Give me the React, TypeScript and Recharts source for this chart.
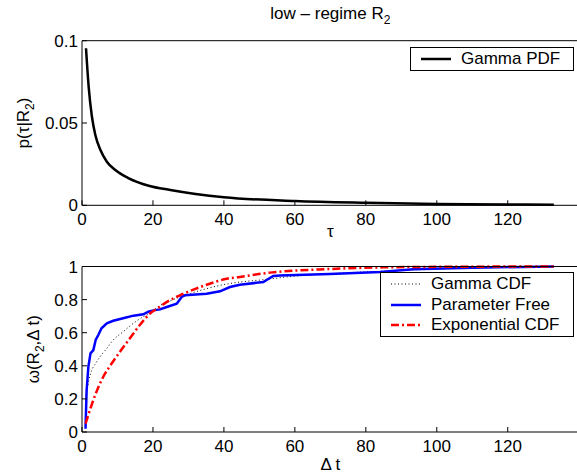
import React from 'react';
import { LineChart, Line, XAxis, YAxis, Legend } from 'recharts';

// Gamma PDF, low regime R2
const pdfTau = [1.13, 1.88, 2.8, 3.76, 5.2, 7.0, 9.4, 13.2, 18.8, 24.9, 40, 60, 80, 100, 120, 133];
const pdfValue = [0.0954, 0.072, 0.0538, 0.0427, 0.0336, 0.0265, 0.0214, 0.0164, 0.0119, 0.0093, 0.0049, 0.0026, 0.0015, 0.0008, 0.0005, 0.0003];

// Parameter-free (empirical) distribution
const freeDt = [1.0, 1.03, 1.3, 1.8, 2.4, 3.2, 3.85, 4.6, 5.5, 7.0, 8.8, 11.6, 14.5, 17.3, 18.7, 20.1, 22, 23.9, 26.7, 28.1, 29, 35.1, 38.9, 41.7, 44.5, 51.1, 53.9, 55.8, 69.9, 84, 93.4, 110, 133];
const freeValue = [0.02, 0.05, 0.25, 0.395, 0.475, 0.495, 0.556, 0.586, 0.627, 0.657, 0.672, 0.687, 0.703, 0.711, 0.727, 0.735, 0.741, 0.755, 0.775, 0.816, 0.826, 0.836, 0.85, 0.876, 0.89, 0.906, 0.943, 0.946, 0.955, 0.967, 0.983, 0.993, 1.0];

// Gamma CDF
const gammaDt = [1.0, 1.8, 2.7, 4, 5.1, 7, 8.8, 11.6, 14.5, 17.3, 19.2, 21, 25.7, 30.4, 35.1, 39.8, 44.5, 51, 60.5, 69.9, 85, 100, 115, 133];
const gammaValue = [0.2, 0.3, 0.37, 0.42, 0.455, 0.506, 0.556, 0.606, 0.657, 0.697, 0.717, 0.75, 0.8, 0.836, 0.866, 0.89, 0.906, 0.92, 0.943, 0.957, 0.972, 0.985, 0.993, 0.997];

// Exponential CDF
const expDt = [1.0, 1.3, 2.7, 4.1, 6.0, 8.4, 10.7, 13.5, 16.3, 19.2, 22, 23.9, 27.6, 31.4, 36, 40.8, 44.5, 53, 69.9, 85, 100, 133];
const expValue = [0.05, 0.07, 0.163, 0.244, 0.334, 0.415, 0.485, 0.566, 0.647, 0.716, 0.757, 0.786, 0.826, 0.86, 0.896, 0.926, 0.937, 0.963, 0.985, 0.995, 0.998, 1.0];

const xTicks = [0, 20, 40, 60, 80, 100, 120];
const pdfTicks = [0, 0.05, 0.1];
const cdfTicks = [0, 0.2, 0.4, 0.6, 0.8, 1];

const zip = (xs: number[], ys: number[]) => xs.map((x, i) => ({ x, y: ys[i] }));

const pdfData = zip(pdfTau, pdfValue);
const freeData = zip(freeDt, freeValue);
const gammaData = zip(gammaDt, gammaValue);
const expData = zip(expDt, expValue);

const FONT = '"Liberation Sans", Arial, Helvetica, sans-serif';

const SERIES_STYLE: Record<string, { color: string; width: number; dash?: string }> = {
  'Gamma PDF': { color: '#000', width: 2.5 },
  'Gamma CDF': { color: '#000', width: 1, dash: '1 2.5' },
  'Parameter Free': { color: '#0000ff', width: 2.5 },
  'Exponential CDF': { color: '#ff0000', width: 2.5, dash: '8 3 2 3' },
};
const SERIES_ORDER = Object.keys(SERIES_STYLE);

// tick label drawn at the position recharts computes
const AxisTick = (props: any) => {
  const { x, y, textAnchor, verticalAnchor, payload } = props;
  return (
    <text
      x={x}
      y={y}
      dy={verticalAnchor === 'start' ? '0.71em' : '0.355em'}
      textAnchor={textAnchor}
      fontFamily={FONT}
      fontSize={17}
      fill="#000"
    >
      {payload.value}
    </text>
  );
};

// matlab-style boxed legend, entries kept in plotting order
const BoxLegend = ({ payload }: any) => {
  const items = [...(payload || [])].sort(
    (a: any, b: any) => SERIES_ORDER.indexOf(a.value) - SERIES_ORDER.indexOf(b.value),
  );
  return (
    <div
      style={{
        background: '#fff',
        border: '1px solid #000',
        padding: '1px 13px 0 10px',
        fontFamily: FONT,
        fontSize: 17,
        lineHeight: '20.5px',
      }}
    >
      {items.map((entry: any) => {
        const s = SERIES_STYLE[entry.value];
        return (
          <div key={entry.value} style={{ display: 'flex', alignItems: 'center', whiteSpace: 'nowrap' }}>
            <svg width={30} height={10} style={{ marginRight: 10 }}>
              <line x1={0} y1={5} x2={30} y2={5} stroke={s.color} strokeWidth={s.width} strokeDasharray={s.dash} />
            </svg>
            <span>{entry.value}</span>
          </div>
        );
      })}
    </div>
  );
};

const XTitle = (text: React.ReactNode, dy: number) => (props: any) => {
  const vb = props.viewBox;
  return (
    <text x={vb.x + vb.width / 2} y={vb.y + dy} textAnchor="middle" fontFamily={FONT} fontSize={17} fill="#000">
      {text}
    </text>
  );
};

const YTitle = (text: React.ReactNode, baselineX: number) => (props: any) => {
  const vb = props.viewBox;
  const cy = vb.y + vb.height / 2;
  return (
    <text
      transform={`translate(${baselineX},${cy}) rotate(-90)`}
      textAnchor="middle"
      fontFamily={FONT}
      fontSize={17}
      fill="#000"
    >
      {text}
    </text>
  );
};

const PlotTitle = (props: any) => {
  const vb = props.viewBox;
  return (
    <text x={vb.x + vb.width / 2} y={vb.y - 21} textAnchor="middle" fontFamily={FONT} fontSize={17} fill="#000">
      low – regime R<tspan dy={5} fontSize={12}>2</tspan>
    </text>
  );
};

const axisLine = { stroke: '#000', strokeWidth: 1 };
const tickLine = { stroke: '#000', strokeWidth: 1 };

const App = () => (
  <div style={{ position: 'absolute', left: 0, top: 0, width: 577, height: 475, overflow: 'hidden', background: '#fff' }}>
    <div style={{ position: 'absolute', left: 0, top: 240 }}>
      <LineChart width={600} height={235} margin={{ top: 25.5, right: 20.3, bottom: 13, left: 22 }}>
        <XAxis
          dataKey="x"
          type="number"
          domain={[0, 140]}
          ticks={xTicks}
          allowDataOverflow
          height={30}
          axisLine={axisLine}
          tickLine={tickLine}
          tickSize={-5}
          tickMargin={13}
          tick={AxisTick}
          label={XTitle('Δ t', 38)}
        />
        <XAxis
          xAxisId="top"
          orientation="top"
          dataKey="x"
          type="number"
          domain={[0, 140]}
          ticks={xTicks}
          height={1}
          axisLine={axisLine}
          tickLine={tickLine}
          tickSize={-5}
          tick={false}
        />
        <YAxis
          type="number"
          domain={[0, 1]}
          ticks={cdfTicks}
          width={60}
          axisLine={axisLine}
          tickLine={tickLine}
          tickSize={-5}
          tickMargin={9}
          tick={AxisTick}
          label={YTitle(
            <>
              ω(R<tspan dy={5} fontSize={12}>2</tspan>
              <tspan dy={-5}>,Δ t)</tspan>
            </>,
            39,
          )}
        />
        <YAxis
          yAxisId="right"
          orientation="right"
          type="number"
          domain={[0, 1]}
          ticks={cdfTicks}
          width={1}
          axisLine={axisLine}
          tickLine={tickLine}
          tickSize={-5}
          tick={false}
        />
        <Legend
          layout="vertical"
          align="center"
          verticalAlign="middle"
          content={BoxLegend}
          wrapperStyle={{ position: 'absolute', left: 380, top: 32, width: 'auto' }}
        />
        <Line
          data={gammaData}
          dataKey="y"
          name="Gamma CDF"
          type="monotone"
          stroke="#000"
          strokeWidth={1}
          strokeDasharray="1 2.5"
          dot={false}
          isAnimationActive={false}
        />
        <Line
          data={freeData}
          dataKey="y"
          name="Parameter Free"
          type="linear"
          stroke="#0000ff"
          strokeWidth={2.5}
          dot={false}
          isAnimationActive={false}
        />
        <Line
          data={expData}
          dataKey="y"
          name="Exponential CDF"
          type="monotone"
          stroke="#ff0000"
          strokeWidth={2.5}
          strokeDasharray="8 3 2 3"
          dot={false}
          isAnimationActive={false}
        />
      </LineChart>
    </div>

    <div style={{ position: 'absolute', left: 0, top: 0 }}>
      <LineChart width={600} height={250} margin={{ top: 39.7, right: 20.3, bottom: 14.7, left: 22 }}>
        <XAxis
          dataKey="x"
          type="number"
          domain={[0, 140]}
          ticks={xTicks}
          allowDataOverflow
          height={30}
          axisLine={axisLine}
          tickLine={tickLine}
          tickSize={-5}
          tickMargin={13}
          tick={AxisTick}
          label={XTitle('τ', 32)}
        />
        <XAxis
          xAxisId="top"
          orientation="top"
          dataKey="x"
          type="number"
          domain={[0, 140]}
          ticks={xTicks}
          height={1}
          axisLine={axisLine}
          tickLine={tickLine}
          tickSize={-5}
          tick={false}
          label={PlotTitle}
        />
        <YAxis
          type="number"
          domain={[0, 0.1]}
          ticks={pdfTicks}
          width={60}
          axisLine={axisLine}
          tickLine={tickLine}
          tickSize={-5}
          tickMargin={9}
          tick={AxisTick}
          label={YTitle(
            <>
              p(τ|R<tspan dy={5} fontSize={12}>2</tspan>
              <tspan dy={-5}>)</tspan>
            </>,
            29,
          )}
        />
        <YAxis
          yAxisId="right"
          orientation="right"
          type="number"
          domain={[0, 0.1]}
          ticks={pdfTicks}
          width={1}
          axisLine={axisLine}
          tickLine={tickLine}
          tickSize={-5}
          tick={false}
        />
        <Legend
          layout="vertical"
          align="center"
          verticalAlign="middle"
          content={BoxLegend}
          wrapperStyle={{ position: 'absolute', left: 410, top: 47, width: 'auto' }}
        />
        <Line
          data={pdfData}
          dataKey="y"
          name="Gamma PDF"
          type="monotone"
          stroke="#000"
          strokeWidth={2.5}
          dot={false}
          isAnimationActive={false}
        />
      </LineChart>
    </div>
  </div>
);

export default App;
